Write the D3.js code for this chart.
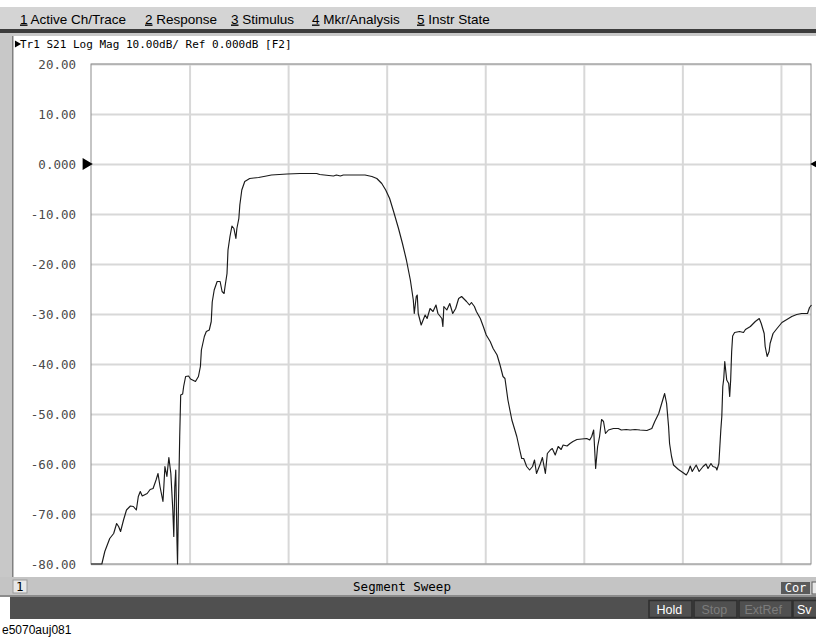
<!DOCTYPE html>
<html>
<head>
<meta charset="utf-8">
<script src="https://cdn.jsdelivr.net/npm/d3@7"></script>
<style>
  body { margin: 0; background: #fff; }
  svg { display: block; }
  .mono { font-family: "DejaVu Sans Mono", "Liberation Mono", monospace; }
  .sans { font-family: "Liberation Sans", Arial, sans-serif; }
</style>
</head>
<body>
<svg id="chart" width="816" height="638"></svg>
<script>
// menu items across the top bar
var menuItems = ["1 Active Ch/Trace", "2 Response", "3 Stimulus", "4 Mkr/Analysis", "5 Instr State"];
var menuX = [20, 145, 231, 312, 417];

// trace header
var traceTitle = "Tr1 S21 Log Mag 10.00dB/ Ref 0.000dB [F2]";

// y axis (dB)
var yTicks = [20, 10, 0, -10, -20, -30, -40, -50, -60, -70, -80];
var yTickLabels = ["20.00", "10.00", "0.000", "-10.00", "-20.00", "-30.00", "-40.00", "-50.00", "-60.00", "-70.00", "-80.00"];
var refLevel = 0;

// x axis in grid divisions (no stimulus labels in segment sweep view)
var xTicks = [1, 2, 3, 4, 5, 6, 7];
var xSpan = 7.305;

// S21 trace, x in divisions, y in dB
var traceX = [0, 0.11, 0.14, 0.19, 0.23, 0.26, 0.28, 0.30, 0.33, 0.36, 0.40, 0.43, 0.46, 0.48, 0.50, 0.52, 0.57, 0.60, 0.63, 0.66,
  0.68, 0.70, 0.73, 0.74, 0.75, 0.77, 0.79, 0.81, 0.83, 0.84, 0.85, 0.86, 0.872, 0.878, 0.888, 0.90, 0.91, 0.93, 0.94, 0.96,
  0.99, 1.01, 1.06, 1.09, 1.11, 1.12, 1.15, 1.17, 1.20, 1.22, 1.23, 1.25, 1.28, 1.31, 1.33, 1.35, 1.36, 1.38, 1.39, 1.41,
  1.43, 1.45, 1.47, 1.48, 1.50, 1.51, 1.53, 1.56, 1.61, 1.70, 1.78, 1.83, 1.99, 2.12, 2.29, 2.32, 2.46, 2.49, 2.53, 2.56,
  2.59, 2.78, 2.85, 2.90, 2.95, 2.99, 3.03, 3.07, 3.12, 3.16, 3.20, 3.24, 3.27, 3.28, 3.30, 3.31, 3.32, 3.35, 3.39, 3.41,
  3.44, 3.47, 3.50, 3.52, 3.56, 3.57, 3.58, 3.61, 3.64, 3.67, 3.70, 3.73, 3.76, 3.81, 3.84, 3.86, 3.89, 3.91, 3.95, 3.98,
  4.01, 4.05, 4.08, 4.12, 4.15, 4.18, 4.20, 4.23, 4.27, 4.32, 4.35, 4.37, 4.39, 4.42, 4.45, 4.48, 4.50, 4.52, 4.56, 4.58,
  4.61, 4.63, 4.66, 4.68, 4.71, 4.74, 4.77, 4.79, 4.83, 4.86, 4.89, 4.93, 4.98, 5.03, 5.06, 5.08, 5.10, 5.12, 5.14, 5.16,
  5.18, 5.20, 5.22, 5.25, 5.30, 5.35, 5.38, 5.43, 5.47, 5.52, 5.57, 5.64, 5.69, 5.72, 5.76, 5.79, 5.82, 5.84, 5.86, 5.87,
  5.89, 5.91, 5.96, 5.99, 6.04, 6.06, 6.08, 6.10, 6.14, 6.17, 6.21, 6.24, 6.26, 6.29, 6.31, 6.34, 6.35, 6.37, 6.39, 6.40,
  6.41, 6.42, 6.43, 6.45, 6.47, 6.48, 6.49, 6.50, 6.51, 6.53, 6.58, 6.62, 6.64, 6.69, 6.74, 6.78, 6.80, 6.83, 6.84, 6.86,
  6.88, 6.89, 6.92, 6.96, 7.01, 7.06, 7.11, 7.16, 7.21, 7.27, 7.29, 7.31];
var traceY = [-81, -80, -77.5, -74.9, -73.9, -71.9, -72.5, -73.5, -71.2, -69.2, -68.4, -68.5, -69.2, -66.5, -65.5, -66.4, -65.9, -65.1, -64.9, -63.2,
  -61.9, -64.5, -67.5, -64.2, -60.5, -62.5, -58.7, -61.9, -69.2, -74.5, -64.5, -61.2, -75.2, -81, -67.2, -54.5, -46.2, -46.0, -44.5, -42.5,
  -42.4, -43.0, -43.5, -42.5, -40.5, -37.2, -34.5, -33.5, -33.2, -31.5, -27.6, -25.2, -23.5, -23.5, -25.5, -25.9, -24.5, -21.9, -17.2, -14.5,
  -12.4, -12.9, -14.9, -12.9, -10.9, -8.2, -5.2, -3.5, -2.9, -2.7, -2.4, -2.2, -2.0, -1.9, -1.9, -2.1, -2.4, -2.2, -2.4, -2.2,
  -2.2, -2.2, -2.5, -2.9, -3.9, -5.2, -6.9, -9.5, -12.9, -15.9, -19.2, -23.2, -27.2, -29.9, -26.5, -26.2, -29.9, -32.2, -30.2, -30.9,
  -28.9, -29.5, -28.2, -29.9, -30.9, -32.5, -28.5, -29.2, -27.9, -29.9, -28.9, -26.9, -26.5, -27.5, -28.2, -27.7, -28.5, -29.5, -30.9, -32.5,
  -34.2, -35.5, -36.9, -38.2, -40.2, -42.5, -42.9, -47.2, -51.2, -54.5, -57.2, -58.9, -58.9, -60.5, -61.2, -60.5, -59.2, -61.9, -59.9, -58.7,
  -61.9, -57.9, -57.2, -56.9, -58.2, -56.5, -57.1, -56.2, -56.4, -55.9, -55.5, -55.1, -55.0, -54.9, -55.2, -54.5, -53.2, -60.9, -56.5, -54.5,
  -51.1, -51.5, -53.9, -53.2, -52.9, -52.9, -53.2, -53.1, -53.2, -53.1, -53.2, -53.3, -52.9, -51.5, -49.9, -47.9, -45.9, -47.9, -52.5, -55.9,
  -58.5, -60.2, -61.1, -61.5, -62.2, -61.5, -60.4, -61.5, -60.2, -61.5, -60.5, -60.0, -60.9, -59.9, -60.5, -60.7, -61.2, -59.9, -53.2, -50.5,
  -44.5, -42.9, -39.5, -43.2, -43.9, -46.5, -43.2, -37.5, -34.4, -33.7, -33.5, -33.7, -33.1, -32.5, -31.5, -30.9, -31.9, -33.9, -36.5, -38.5,
  -37.5, -35.9, -33.9, -32.9, -31.7, -31.1, -30.5, -30.1, -29.9, -29.9, -28.7, -28.2];

// status bar buttons (last one is cut by the screenshot edge)
var statusButtons = ["Hold", "Stop", "ExtRef", "Sv"];
var statusActive = [true, false, false, true];
var statusX = [649, 694, 739, 793];
var statusW = [43, 43, 53, 30];

var W = 816, H = 638;
var margin = { left: 91, right: 5, top: 64, bottom: 74 };
var width = W - margin.left - margin.right,
    height = H - margin.top - margin.bottom;

var svg = d3.select("#chart");

// ---------- window chrome ----------
svg.append("rect").attr("x", 0).attr("y", 0).attr("width", W).attr("height", H).attr("fill", "#fff");

// menu bar
svg.append("rect").attr("x", 0).attr("y", 7).attr("width", W).attr("height", 22).attr("fill", "#d4d4d4");
svg.append("rect").attr("x", 0).attr("y", 29).attr("width", W).attr("height", 4).attr("fill", "#3c3c3c");

var menu = svg.append("g").attr("class", "sans").style("font-size", "13.5px");
menuItems.forEach(function(m, i) {
    var t = menu.append("text").attr("x", menuX[i]).attr("y", 23.5).attr("fill", "#000");
    t.append("tspan").attr("text-decoration", "underline").text(m[0]);
    t.append("tspan").text(m.slice(1));
});

// left window frame
svg.append("rect").attr("x", 0).attr("y", 33).attr("width", 12).attr("height", 545).attr("fill", "#c8c8c8");
svg.append("rect").attr("x", 12).attr("y", 33).attr("width", 1.5).attr("height", 545).attr("fill", "#808080");
svg.append("rect").attr("x", 12).attr("y", 33).attr("width", W - 12).attr("height", 3).attr("fill", "#c8c8c8");

// trace header
svg.append("path")
    .attr("d", d3.symbol().type(d3.symbolTriangle).size(22)())
    .attr("transform", "translate(17,44) rotate(90)")
    .attr("fill", "#000");
svg.append("text").attr("class", "mono")
    .attr("x", 20).attr("y", 48)
    .style("font-size", "11px")
    .attr("fill", "#000")
    .text(traceTitle);

// ---------- plot ----------
var x = d3.scaleLinear().domain([0, xSpan]).range([0, width]);
var y = d3.scaleLinear().domain([-80, 20]).range([height, 0]);

var plot = svg.append("g").attr("transform", "translate(" + margin.left + "," + margin.top + ")");

// grid
plot.append("g")
    .attr("class", "grid")
    .call(d3.axisLeft(y).tickValues(yTicks).tickSize(-width).tickFormat(""))
    .call(function(g) { g.select(".domain").remove() })
    .call(function(g) { g.selectAll("line").attr("stroke", "#d8d8d8").attr("stroke-width", 2) });

plot.append("g")
    .attr("class", "grid")
    .attr("transform", "translate(0," + height + ")")
    .call(d3.axisBottom(x).tickValues(xTicks).tickSize(-height).tickFormat(""))
    .call(function(g) { g.select(".domain").remove() })
    .call(function(g) { g.selectAll("line").attr("stroke", "#d8d8d8").attr("stroke-width", 2) });

// frame
plot.append("rect")
    .attr("x", 0).attr("y", 0).attr("width", width).attr("height", height)
    .attr("fill", "none").attr("stroke", "#8c8c8c").attr("stroke-width", 1);

// y labels
plot.append("g")
    .attr("class", "mono")
    .call(d3.axisLeft(y).tickValues(yTicks).tickSize(0).tickPadding(15)
        .tickFormat(function(d, i) { return yTickLabels[i] }))
    .call(function(g) { g.select(".domain").remove() })
    .call(function(g) {
        g.selectAll("text").attr("fill", "#4a4a4a")
            .style("font-size", "12.5px")
            .style("font-family", "'DejaVu Sans Mono', monospace")
    });

// reference markers
plot.append("path")
    .attr("d", d3.symbol().type(d3.symbolTriangle).size(60)())
    .attr("transform", "translate(-5," + y(refLevel) + ") rotate(90)")
    .attr("fill", "#000");
plot.append("path")
    .attr("d", d3.symbol().type(d3.symbolTriangle).size(30)())
    .attr("transform", "translate(" + (width + 4) + "," + y(refLevel) + ") rotate(-90)")
    .attr("fill", "#000");

// trace
var traceData = traceX.map(function(d, i) { return { x: d, y: traceY[i] } });
var line = d3.line()
    .x(function(d) { return x(d.x) })
    .y(function(d) { return y(Math.max(d.y, -80)) });

plot.append("path")
    .datum(traceData)
    .attr("fill", "none")
    .attr("stroke", "#1a1a1a")
    .attr("stroke-width", 1.15)
    .attr("stroke-linejoin", "round")
    .attr("d", line);

// ---------- bottom bars ----------
svg.append("rect").attr("x", 0).attr("y", 577).attr("width", W).attr("height", 19).attr("fill", "#c4c4c4");
svg.append("rect").attr("x", 0).attr("y", 595).attr("width", W).attr("height", 2).attr("fill", "#8c8c8c");
svg.append("rect").attr("x", 13).attr("y", 580).attr("width", 14).attr("height", 13).attr("fill", "#e8e8e8").attr("stroke", "#9a9a9a");
svg.append("text").attr("class", "mono").attr("x", 16).attr("y", 591).style("font-size", "12.5px").text("1");
svg.append("text").attr("class", "mono").attr("x", 402).attr("y", 591).attr("text-anchor", "middle")
    .style("font-size", "12.5px").text("Segment Sweep");
svg.append("rect").attr("x", 781).attr("y", 582).attr("width", 29).attr("height", 12).attr("fill", "#5a5a5a");
svg.append("text").attr("class", "mono").attr("x", 795.5).attr("y", 592).attr("text-anchor", "middle")
    .attr("fill", "#fff").style("font-size", "12px").text("Cor");
svg.append("rect").attr("x", 812).attr("y", 582).attr("width", 10).attr("height", 12).attr("fill", "#e8e8e8").attr("stroke", "#5a5a5a");

svg.append("rect").attr("x", 10).attr("y", 597).attr("width", W - 10).attr("height", 22).attr("fill", "#505050");
var btn = svg.append("g").attr("class", "sans").style("font-size", "12.5px");
statusButtons.forEach(function(b, i) {
    btn.append("rect").attr("x", statusX[i]).attr("y", 600.5).attr("width", statusW[i]).attr("height", 17)
        .attr("fill", "none").attr("stroke", "#2e2e2e").attr("stroke-width", 1.5);
    btn.append("text").attr("x", statusX[i] + 4).attr("y", 614)
        .attr("dx", b.length > 2 ? (statusW[i] - 8 - b.length * 7) / 2 : 0)
        .attr("fill", statusActive[i] ? "#ffffff" : "#7c7c7c").text(b);
});

svg.append("text").attr("class", "sans").attr("x", 2).attr("y", 634)
    .style("font-size", "12px").attr("fill", "#000").text("e5070auj081");
</script>
</body>
</html>
